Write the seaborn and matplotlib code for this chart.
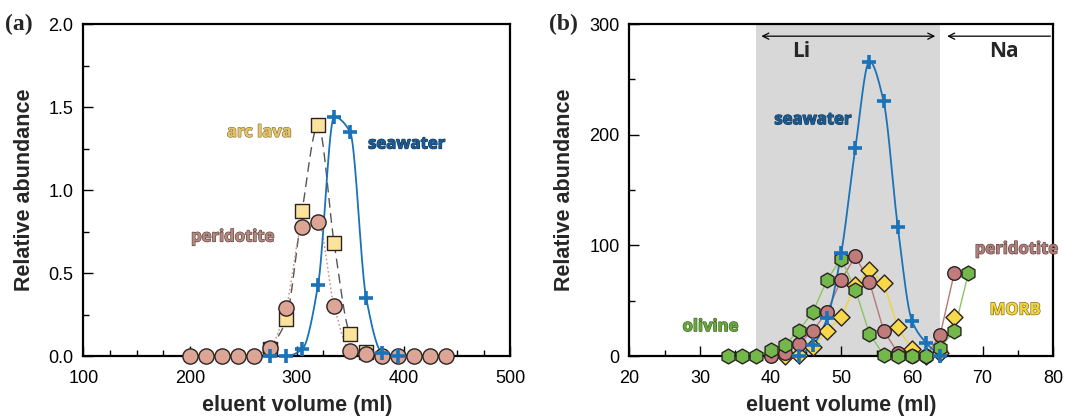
import numpy as np
import pandas as pd
import matplotlib
matplotlib.use("Agg")
import matplotlib.pyplot as plt
import matplotlib.patheffects as pe
import seaborn as sns

# ---------------- data (a) ----------------
a_per_x = [200, 215, 230, 245, 260, 275, 290, 305, 320, 335, 350, 365, 380, 395, 410, 425, 440]
a_per_y = [0, 0, 0, 0, 0, 0.05, 0.29, 0.78, 0.81, 0.30, 0.03, 0.01, 0, 0, 0, 0, 0]
a_arc_x = [275, 290, 305, 320, 335, 350, 365]
a_arc_y = [0.04, 0.22, 0.875, 1.39, 0.68, 0.13, 0.025]
a_sea_x = [275, 290, 305, 320, 335, 350, 365, 380, 395]
a_sea_y = [0.0, 0.0, 0.04, 0.43, 1.44, 1.35, 0.35, 0.02, 0.0]

# ---------------- data (b) ----------------
b_sea_x = [44, 46, 48, 50, 52, 54, 56, 58, 60, 62, 64]
b_sea_y = [0, 10, 34, 93, 188, 266, 230, 117, 32, 12, 0]
b_per_x = [40, 42, 44, 46, 48, 50, 52, 54, 56, 58, 60, 62, 64, 66]
b_per_y = [0, 3, 11, 23, 40, 69, 90, 67, 23, 3, 0, 0, 19, 75]
b_morb_x = [42, 44, 46, 48, 50, 52, 54, 56, 58, 60, 62, 64, 66]
b_morb_y = [0, 1, 8, 23, 35, 64, 78, 66, 26, 6, 0, 3, 35]
b_oli_x = [34, 36, 38, 40, 42, 44, 46, 48, 50, 52, 54, 56, 58, 60, 62, 64, 66, 68]
b_oli_y = [0, 0, 0, 5, 10, 23, 40, 69, 88, 60, 20, 1, 0, 0, 0, 7, 23, 75]

li_range = (38, 64)

# ---------------- style ----------------
sns.set_style("ticks")
plt.rcParams['font.family'] = ['Liberation Sans', 'DejaVu Sans']

BLUE = "#1a72b8"
C_PER_A = "#dca595"
C_ARC = "#fbe39c"
C_PER_B = "#c27b7b"
C_MORB = "#f6d84a"
C_OLI = "#72b84a"
EDGE = "#2a2222"


def smooth(x, y, n=30):
    """Monotone cubic (Fritsch-Carlson) curve through the data points, for drawing only."""
    x = np.asarray(x, float)
    y = np.asarray(y, float)
    h = np.diff(x)
    d = np.diff(y) / h
    m = np.zeros_like(y)
    m[0], m[-1] = d[0], d[-1]
    for i in range(1, len(y) - 1):
        if d[i - 1] * d[i] <= 0:
            m[i] = 0.0
        else:
            w1 = 2 * h[i] + h[i - 1]
            w2 = h[i] + 2 * h[i - 1]
            m[i] = (w1 + w2) / (w1 / d[i - 1] + w2 / d[i])
    xs, ys = [], []
    for i in range(len(x) - 1):
        t = np.linspace(0, 1, n, endpoint=False)
        h00 = 2 * t**3 - 3 * t**2 + 1
        h10 = t**3 - 2 * t**2 + t
        h01 = -2 * t**3 + 3 * t**2
        h11 = t**3 - t**2
        xs.append(x[i] + t * h[i])
        ys.append(h00 * y[i] + h10 * h[i] * m[i] + h01 * y[i + 1] + h11 * h[i] * m[i + 1])
    xs.append([x[-1]])
    ys.append([y[-1]])
    return np.concatenate(xs), np.concatenate(ys)


fig = plt.figure(figsize=(10.66, 4.16), dpi=100)
axA = fig.add_axes([0.0781, 0.1442, 0.4006, 0.7981])
axB = fig.add_axes([0.5903, 0.1442, 0.3977, 0.7981])

label_font = dict(family='Open Sans', fontweight='bold', fontsize=12)


def outlined(ax, x, y, s, color, stroke, **kw):
    t = ax.text(x, y, s, color=color, ha='center', va='center', **label_font, **kw)
    t.set_path_effects([pe.withStroke(linewidth=0.9, foreground=stroke)])
    return t

# ---------------- panel (a) ----------------
ax = axA
sx, sy = smooth(a_arc_x, a_arc_y)
sns.lineplot(x=sx, y=sy, ax=ax, color="#555555", lw=1.0, linestyle=(0, (7, 4)), sort=False, zorder=2)
sx, sy = smooth(a_per_x[4:13], a_per_y[4:13])
sns.lineplot(x=sx, y=sy, ax=ax, color="#c88a80", lw=1.0, linestyle=(0, (1.2, 1.8)), sort=False, zorder=2)
sx, sy = smooth(a_sea_x, a_sea_y)
sns.lineplot(x=sx, y=sy, ax=ax, color=BLUE, lw=1.3, sort=False, zorder=3)

sns.scatterplot(x=a_arc_x, y=a_arc_y, ax=ax, marker='s', s=100, color=C_ARC, edgecolor=EDGE, linewidth=1.0, zorder=4)
sns.scatterplot(x=a_per_x, y=a_per_y, ax=ax, marker='o', s=120, color=C_PER_A, edgecolor=EDGE, linewidth=1.0, zorder=5)
sns.scatterplot(x=a_sea_x, y=a_sea_y, ax=ax, marker='+', s=110, color=BLUE, linewidth=2.6, zorder=6)

ax.set_xlim(100, 500)
ax.set_ylim(0, 2.0)
ax.set_xticks([100, 200, 300, 400, 500])
ax.set_xticks(np.arange(100, 501, 25), minor=True)
ax.set_yticks([0, 0.5, 1.0, 1.5, 2.0])
ax.set_yticklabels(["0.0", "0.5", "1.0", "1.5", "2.0"])
ax.set_yticks(np.arange(0, 2.01, 0.25), minor=True)

outlined(ax, 265, 1.35, "arc lava", "#e6c46a", "#8a7338")
outlined(ax, 403, 1.28, "seawater", "#1d5c92", "#123a5e")
outlined(ax, 240, 0.72, "peridotite", "#b48a80", "#5e4440")

ax.text(-0.183, 1.0, "(a)", transform=ax.transAxes, ha='left', va='center',
        family='Liberation Serif', fontweight='bold', fontsize=17)

# ---------------- panel (b) ----------------
ax = axB
ax.axvspan(li_range[0], li_range[1], color="#d8d8d8", zorder=0, lw=0)

sns.lineplot(x=b_morb_x, y=b_morb_y, ax=ax, color="#f2d23a", lw=1.0, zorder=2)
sns.lineplot(x=b_per_x, y=b_per_y, ax=ax, color="#b87878", lw=1.0, zorder=2)
sns.lineplot(x=b_oli_x, y=b_oli_y, ax=ax, color="#8cc464", lw=1.0, zorder=2)
sx, sy = smooth(b_sea_x, b_sea_y)
sns.lineplot(x=sx, y=sy, ax=ax, color=BLUE, lw=1.3, sort=False, zorder=3)

sns.scatterplot(x=b_morb_x, y=b_morb_y, ax=ax, marker='D', s=75, color=C_MORB, edgecolor=EDGE, linewidth=1.0, zorder=4)
sns.scatterplot(x=b_per_x, y=b_per_y, ax=ax, marker='o', s=95, color=C_PER_B, edgecolor=EDGE, linewidth=1.0, zorder=4)
sns.scatterplot(x=b_oli_x, y=b_oli_y, ax=ax, marker='h', s=115, color=C_OLI, edgecolor=EDGE, linewidth=1.0, zorder=5)
sns.scatterplot(x=b_sea_x, y=b_sea_y, ax=ax, marker='+', s=110, color=BLUE, linewidth=2.6, zorder=6)

ax.set_xlim(20, 80)
ax.set_ylim(0, 300)
ax.set_xticks([20, 30, 40, 50, 60, 70, 80])
ax.set_xticks(np.arange(20, 81, 5), minor=True)
ax.set_yticks([0, 100, 200, 300])
ax.set_yticks(np.arange(0, 301, 50), minor=True)

ax.annotate("", xy=(li_range[0] + 0.3, 289), xytext=(li_range[1] - 0.3, 289),
            arrowprops=dict(arrowstyle='<->', color='black', lw=0.9, mutation_scale=11), zorder=7)
ax.annotate("", xy=(li_range[1] + 0.6, 289), xytext=(80, 289),
            arrowprops=dict(arrowstyle='->', color='black', lw=0.9, mutation_scale=11), zorder=7)
ax.text(44.4, 275, "Li", ha='center', va='center', family='Open Sans', fontweight='bold', fontsize=15)
ax.text(73.0, 275, "Na", ha='center', va='center', family='Open Sans', fontweight='bold', fontsize=15)

outlined(ax, 46.0, 214, "seawater", "#1d5c92", "#123a5e")
outlined(ax, 74.8, 97, "peridotite", "#b07e7a", "#5e4440")
outlined(ax, 74.6, 42, "MORB", "#f4d43a", "#7a6a20")
outlined(ax, 31.5, 27, "olivine", "#6aa83e", "#3a6420")

ax.text(-0.19, 1.0, "(b)", transform=ax.transAxes, ha='left', va='center',
        family='Liberation Serif', fontweight='bold', fontsize=17)

for ax in (axA, axB):
    for sp in ax.spines.values():
        sp.set_linewidth(1.6)
        sp.set_color('black')
        sp.set_visible(True)
    ax.tick_params(which='both', direction='in', top=False, right=False, labelsize=13, width=1.0, colors='black')
    ax.tick_params(which='major', length=7)
    ax.tick_params(axis='x', which='major', pad=10)
    ax.tick_params(axis='y', which='major', pad=7)
    ax.tick_params(which='minor', length=4)
    ax.set_xlabel("eluent volume (ml)", fontsize=15.5, fontweight='bold', labelpad=6)
    ax.set_ylabel("Relative abundance", fontsize=15.5, fontweight='bold', labelpad=10)
    for coll in ax.collections:
        coll.set_clip_on(False)

fig.savefig("out.png", dpi=100)
